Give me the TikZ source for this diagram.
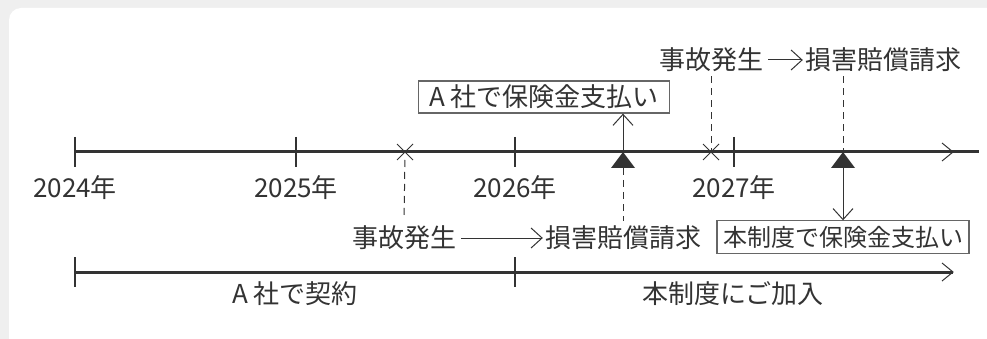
\documentclass[tikz,border=0pt]{standalone}
\usepackage{fontspec}
\setmainfont{Noto Sans CJK JP}
\usetikzlibrary{arrows.meta}
\usetikzlibrary{calc}
\definecolor{ink}{HTML}{333333}
\definecolor{frame}{HTML}{666666}
\definecolor{backg}{HTML}{EFEFEF}
\tikzset{
  lbl/.style={inner sep=0pt, text=ink, font=\fontsize{26}{30}\selectfont},
  paybox/.style={lbl, draw=frame, line width=1.2pt, inner xsep=6pt, inner ysep=4pt},
  mainline/.style={ink, line width=3pt},
  thinline/.style={ink, line width=1pt},
  tickline/.style={ink, line width=1.2pt},
  guide/.style={ink, line width=1pt, dash pattern=on 7pt off 5pt},
  arr/.style={thinline, -{Straight Barb[length=11pt,width=20pt]}},
}

\begin{document}
\begin{tikzpicture}[x=1pt,y=-1pt]
  \useasboundingbox (0,0) rectangle (987,339);
  \fill[backg] (0,0) rectangle (987,339);
  \fill[white, rounded corners=12pt] (9,8) rectangle (1010,360);

  % time line
  \coordinate (start) at (75,152);
  \coordinate (mainend) at (979,152);
  \coordinate (maintip) at (953,152);
  \draw[mainline] (start) -- (mainend);
  \draw[thinline] ($(maintip)+(-11,-9)$) -- (maintip) -- ($(maintip)+(-11,9)$);

  \foreach \yr/\x in {2024/75,2025/296,2026/515,2027/734}{
    \draw[tickline] (\x,137) -- (\x,167);
    \node[lbl] (y\yr) at (\x,188) {\yr 年};
  }

  % accidents and payments
  \foreach \n/\x in {1/405,2/711}{
    \coordinate (acc\n) at (\x,152);
    \draw[thinline] ($(acc\n)+(-8,-8)$) -- ($(acc\n)+(8,8)$)
                    ($(acc\n)+(-8,8)$) -- ($(acc\n)+(8,-8)$);
  }
  \foreach \n/\x in {1/623,2/843}{
    \coordinate (pay\n) at (\x,152);
    \fill[ink] (pay\n) -- ++(-12,16) -- ++(24,0) -- cycle;
  }

  \node[lbl] (occ1) at (404,238) {事故発生};
  \node[lbl] (clm1) at (623,238) {損害賠償請求};
  \draw[arr, shorten <=5pt, shorten >=2pt] (occ1) -- (clm1);

  \node[lbl] (occ2) at (711,60) {事故発生};
  \node[lbl] (clm2) at (883,60) {損害賠償請求};
  \draw[arr, shorten <=5pt, shorten >=2pt] (occ2) -- (clm2);

  \node[paybox, inner xsep=11pt] (boxA) at (544,97) {A 社で保険金支払い};
  \node[paybox, font=\fontsize{24}{28}\selectfont, inner ysep=5pt] (boxB) at (843,237) {本制度で保険金支払い};

  \draw[arr] (pay1) -- (pay1 |- boxA.south);
  \draw[arr, shorten <=16pt] (pay2) -- (pay2 |- boxB.north);

  \draw[guide, shorten <=8pt, shorten >=7pt] (acc1) -- (occ1.north);
  \draw[guide, shorten <=16pt, shorten >=5pt] (pay1) -- (pay1 |- clm1.north);
  \draw[guide, shorten <=4pt, shorten >=2pt] (occ2.south) -- (acc2);
  \draw[guide, shorten <=4pt] (pay2 |- clm2.south) -- (pay2);

  % contract periods
  \coordinate (planstart) at (75,272);
  \coordinate (planswitch) at (515,272);
  \coordinate (plantip) at (953,272);
  \draw[mainline] (planstart) -- (plantip);
  \draw[thinline] ($(plantip)+(-11,-9)$) -- (plantip) -- ($(plantip)+(-11,9)$);
  \draw[tickline] ($(planstart)+(0,-15)$) -- ($(planstart)+(0,15)$);
  \draw[tickline] ($(planswitch)+(0,-15)$) -- ($(planswitch)+(0,15)$);

  \node[lbl] (termA) at (295,294) {A 社で契約};
  \node[lbl] (termB) at (733,294) {本制度にご加入};
\end{tikzpicture}
\end{document}
